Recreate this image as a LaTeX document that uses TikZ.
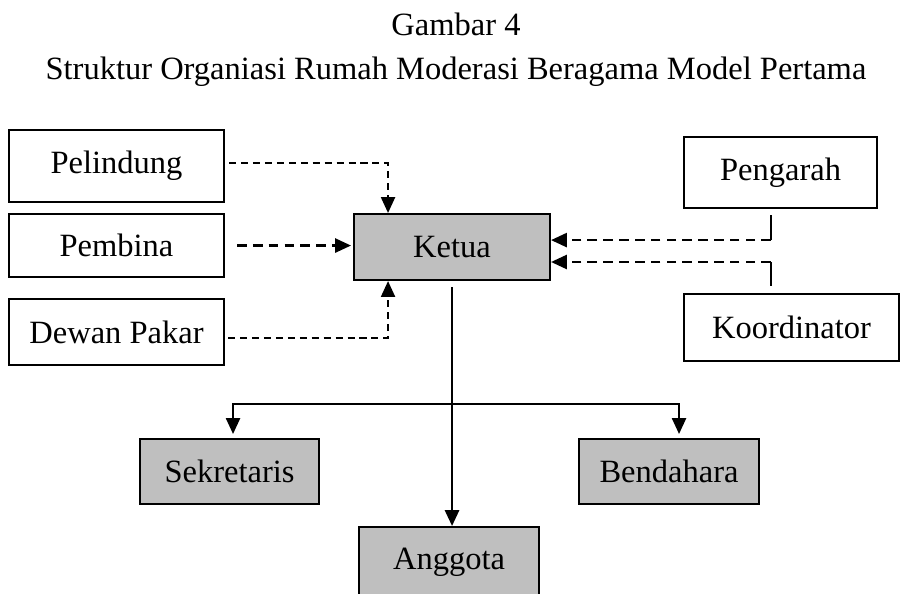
\documentclass[tikz,border=0pt]{standalone}
\usepackage{fontspec}
\setmainfont{Liberation Serif}
\usetikzlibrary{arrows.meta,positioning}

\begin{document}
\begin{tikzpicture}[x=0.02cm,y=-0.02cm,font=\fontsize{18.5}{22}\selectfont,
  box/.style={draw,line width=1.2pt,inner sep=0pt,anchor=north west},
  grey/.style={box,fill=black!25},
  tip/.style={-{Triangle[length=9pt,width=8pt]}},
  fine/.style={line width=1pt,dash pattern=on 4pt off 2.8pt},
  coarse/.style={line width=1.3pt,dash pattern=on 5.5pt off 3.5pt}]
  \useasboundingbox (0,0) rectangle (900,594);
  \clip (0,0) rectangle (900,594);
  \node[anchor=base] (fig) at (456,36) {Gambar 4};
  \node[anchor=base] (title) at (456,80) {Struktur Organiasi Rumah Moderasi Beragama Model Pertama};
  \node[box,minimum width=4.3cm,minimum height=1.44cm] (pel) at (8,129) {Pelindung};
  \node[box,minimum width=4.3cm,minimum height=1.26cm] (pem) at (8,213) {Pembina};
  \node[box,minimum width=4.3cm,minimum height=1.32cm] (dew) at (8,298) {Dewan Pakar};
  \node[grey,minimum width=3.92cm,minimum height=1.32cm] (ket) at (353,213) {Ketua};
  \node[box,minimum width=3.86cm,minimum height=1.42cm] (peng) at (683,136) {Pengarah};
  \node[box,minimum width=4.3cm,minimum height=1.34cm] (koor) at (683,293) {Koordinator};
  \node[grey,minimum width=3.58cm,minimum height=1.3cm] (sek) at (139,438) {Sekretaris};
  \node[grey,minimum width=3.6cm,minimum height=1.3cm] (ben) at (578,438) {Bendahara};
  \node[grey,minimum width=3.6cm,minimum height=1.4cm] (ang) at (358,526) {Anggota};
  % dashed lines into Ketua
  \draw[fine,tip] ([xshift=0.08cm,yshift=0.06cm]pel.east) -| ([xshift=-1.28cm]ket.north);
  \draw[coarse,tip] ([xshift=0.24cm]pem.east) -- ([xshift=-0.04cm]ket.west |- pem.east);
  \draw[fine,tip] ([xshift=0.06cm,yshift=-0.12cm]dew.east) -| ([xshift=-1.28cm]ket.south);
  \draw[line width=1.2pt] ([xshift=-0.19cm,yshift=-0.12cm]peng.south) -- ++(0,25) coordinate (pg);
  \draw[coarse,tip] (pg) -- (pg -| ket.east);
  \draw[line width=1.2pt] ([xshift=-0.41cm,yshift=0.14cm]koor.north) -- ++(0,-24) coordinate (ko);
  \draw[coarse,tip] (ko) -- (ko -| ket.east);
  % solid lines down
  \coordinate (br) at ([yshift=-2.46cm]ket.south);
  \draw[line width=1.4pt,tip] ([yshift=-0.12cm]ket.south) -- (ket.south |- ang.north);
  \draw[line width=1.1pt,tip] (br) -| ([xshift=0.07cm,yshift=0.08cm]sek.north);
  \draw[line width=1.1pt,tip] (br) -| ([xshift=0.2cm,yshift=0.08cm]ben.north);
\end{tikzpicture}
\end{document}
